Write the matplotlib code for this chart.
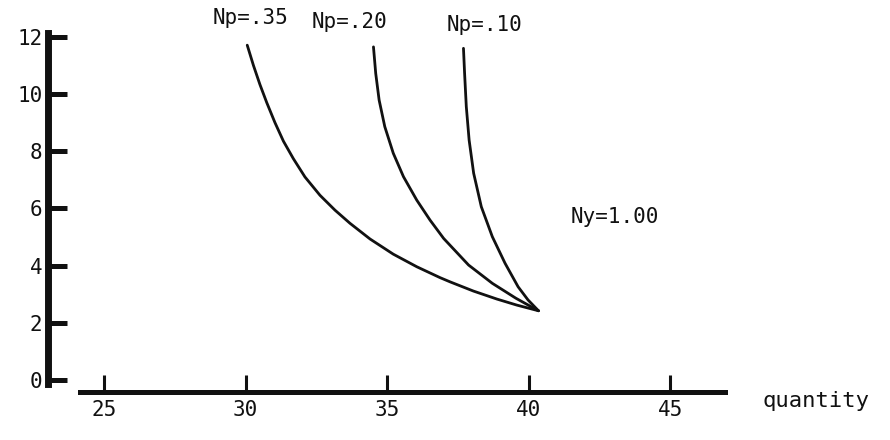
import matplotlib
matplotlib.use("Agg")
import matplotlib.pyplot as plt

# ---- data ----
np35_x = [30.06, 30.28, 30.51, 30.75, 31.04, 31.34, 31.69, 32.10, 32.63, 33.16,
          33.69, 34.40, 35.22, 36.05, 36.87, 37.23, 38.05, 38.88, 39.58, 40.35]
np35_y = [11.71, 11.00, 10.33, 9.70, 9.00, 8.35, 7.74, 7.10, 6.46, 5.94,
          5.48, 4.93, 4.40, 3.96, 3.58, 3.43, 3.11, 2.83, 2.62, 2.42]

np20_x = [34.52, 34.60, 34.72, 34.92, 35.22, 35.58, 36.05, 36.52, 37.00, 37.88,
          38.72, 39.55, 40.35]
np20_y = [11.65, 10.72, 9.79, 8.86, 7.93, 7.11, 6.29, 5.59, 4.95, 4.02,
          3.38, 2.86, 2.42]

np10_x = [37.70, 37.74, 37.80, 37.90, 38.06, 38.33, 38.72, 39.17, 39.63, 39.98, 40.35]
np10_y = [11.60, 10.72, 9.56, 8.39, 7.23, 6.06, 5.01, 4.08, 3.26, 2.80, 2.42]

curve_labels = ["Np=.35", "Np=.20", "Np=.10"]
x_ticks = [25, 30, 35, 40, 45]
y_ticks = [0, 2, 4, 6, 8, 10, 12]
x_label = "quantity"
note = "Ny=1.00"

FONT = "DejaVu Sans Mono"
INK = "#111111"

fig = plt.figure(figsize=(8.9, 4.4), dpi=100)
ax = fig.add_axes([0, 0, 1, 1])
ax.set_xlim(21.325, 52.77)
ax.set_ylim(-2.10, 13.29)

for xs, ys in [(np35_x, np35_y), (np20_x, np20_y), (np10_x, np10_y)]:
    ax.plot(xs, ys, color=INK, lw=2.0, solid_capstyle="round",
            solid_joinstyle="round")

# curve labels above each curve's top
label_pos = [(30.16, 12.66), (33.69, 12.52), (38.46, 12.41)]
for lab, (lx, ly) in zip(curve_labels, label_pos):
    ax.text(lx, ly, lab, ha="center", va="center", fontsize=15,
            family=FONT, color=INK)

ax.text(43.06, 5.70, note, ha="center", va="center", fontsize=15,
        family=FONT, color=INK)
ax.text(50.16, -0.72, x_label, ha="center", va="center", fontsize=16,
        family=FONT, color=INK)

# spines
for s in ["top", "right"]:
    ax.spines[s].set_visible(False)
ax.spines["left"].set_position(("data", 23.02))
ax.spines["left"].set_bounds(-0.15, 12.15)
ax.spines["left"].set_linewidth(5)
ax.spines["left"].set_color(INK)
ax.spines["bottom"].set_position(("data", -0.42))
ax.spines["bottom"].set_bounds(24.15, 46.94)
ax.spines["bottom"].set_linewidth(3.6)
ax.spines["bottom"].set_color(INK)

ax.set_xticks(x_ticks)
ax.set_xticklabels([str(v) for v in x_ticks], family=FONT, fontsize=15)
ax.set_yticks(y_ticks)
ax.set_yticklabels([str(v) for v in y_ticks], family=FONT, fontsize=15)
ax.tick_params(axis="y", direction="in", length=14, width=3.6, pad=4,
               colors=INK)
ax.tick_params(axis="x", direction="in", length=12, width=2.2, pad=6,
               colors=INK)

fig.savefig("out.png", dpi=100)
